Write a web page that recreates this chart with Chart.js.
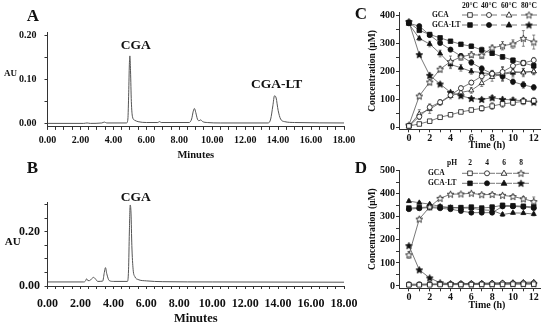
<!DOCTYPE html>
<html>
<head>
<meta charset="utf-8">
<script src="https://cdn.jsdelivr.net/npm/chart.js@4.4.0/dist/chart.umd.min.js"></script>
<style>
html, body { margin: 0; padding: 0; background: #fff; }
#wrap { position: relative; width: 550px; height: 328px; overflow: hidden; }
#wrap canvas { position: absolute; left: 0; top: 0; }
</style>
</head>
<body>
<div id="wrap">
  <canvas id="chartA" width="550" height="328"></canvas>
  <canvas id="chartB" width="550" height="328"></canvas>
  <canvas id="chartC" width="550" height="328"></canvas>
  <canvas id="chartD" width="550" height="328"></canvas>
</div>
<script>
// ---- chromatogram A (minutes / AU) ----
const aTime = [0, 2.2, 2.4, 2.6, 3.3, 3.45, 3.6, 4.8, 4.88, 4.93, 4.97, 5.0, 5.04, 5.09, 5.16, 5.3, 5.5, 6.0, 6.7, 6.8, 6.9,
               8.6, 8.75, 8.85, 8.92, 9.0, 9.1, 9.2, 9.3, 9.42, 9.7, 10.5, 13.4, 13.55, 13.68, 13.78, 13.88, 14.0, 14.15, 14.4, 15.0, 18];
const aAU   = [0, 0, 0.001, 0, 0.001, 0.003, 0.001, 0.001, 0.01, 0.07, 0.135, 0.154, 0.12, 0.05, 0.015, 0.007, 0.004, 0.002, 0.002, 0.004, 0.002,
               0.002, 0.01, 0.028, 0.034, 0.025, 0.01, 0.006, 0.008, 0.004, 0.002, 0.001, 0.001, 0.01, 0.04, 0.063, 0.058, 0.03, 0.01, 0.004, 0.002, 0.001];
const aYLabels = [0, 0.1, 0.2];

// ---- chromatogram B ----
const bTime = [0, 2.2, 2.3, 2.38, 2.45, 2.55, 2.7, 2.8, 2.9, 3.05, 3.35, 3.45, 3.52, 3.6, 3.75,
               4.0, 4.85, 4.92, 4.97, 5.02, 5.07, 5.12, 5.2, 5.3, 5.5, 6.0, 7.0, 10, 18];
const bAU   = [0.015, 0.015, 0.018, 0.027, 0.02, 0.02, 0.028, 0.032, 0.027, 0.017, 0.018, 0.05, 0.068, 0.045, 0.02,
               0.017, 0.017, 0.06, 0.2, 0.3, 0.27, 0.15, 0.06, 0.035, 0.024, 0.019, 0.016, 0.015, 0.014];
const bYLabels = [0, 0.2];

// ---- C: temperature (hours / uM) ----
const hours = [0, 1, 2, 3, 4, 5, 6, 7, 8, 9, 10, 11, 12];
const cGca20 = [5, 12, 22, 36, 45, 55, 62, 68, 76, 84, 88, 93, 95];
const cGca40 = [5, 38, 72, 90, 115, 140, 160, 183, 192, 198, 220, 230, 240];
const cGca60 = [5, 48, 65, 88, 112, 125, 132, 158, 180, 192, 200, 196, 200];
const cGca80 = [8, 112, 162, 208, 235, 252, 260, 258, 284, 292, 298, 318, 305];
const cLt20  = [375, 347, 332, 320, 308, 297, 290, 277, 265, 252, 240, 230, 220];
const cLt40  = [372, 362, 330, 302, 278, 255, 232, 210, 192, 182, 163, 152, 143];
const cLt60  = [370, 318, 298, 264, 225, 213, 200, 196, 190, 190, 195, 198, 200];
const cLt80  = [378, 260, 186, 155, 125, 113, 103, 100, 106, 100, 98, 95, 90];
const cErrGca20 = [2, 3, 3, 3, 4, 5, 6, 10, 12, 12, 10, 12, 12];
const cErrGca40 = [2, 10, 12, 8, 8, 8, 8, 10, 12, 15, 12, 10, 10];
const cErrGca60 = [2, 15, 15, 10, 10, 10, 10, 12, 15, 25, 15, 15, 12];
const cErrGca80 = [3, 8, 10, 10, 20, 12, 10, 12, 10, 15, 15, 28, 25];
const cErrLt20  = [5, 5, 5, 5, 5, 6, 8, 10, 8, 8, 8, 8, 8];
const cErrLt40  = [5, 5, 8, 8, 8, 8, 10, 10, 10, 12, 10, 12, 10];
const cErrLt60  = [5, 8, 10, 12, 15, 12, 10, 10, 12, 25, 15, 12, 10];
const cErrLt80  = [5, 5, 8, 6, 5, 5, 5, 6, 8, 8, 8, 8, 8];
const cTemps = ['20°C', '40°C', '60°C', '80°C'];

// ---- D: pH ----
const dGca2 = [5, 5, 5, 6, 6, 6, 6, 7, 7, 7, 8, 8, 8];
const dGca4 = [8, 8, 9, 9, 9, 10, 10, 10, 11, 12, 12, 13, 13];
const dGca6 = [3, 4, 6, 8, 9, 10, 11, 12, 13, 14, 15, 16, 17];
const dGca8 = [135, 290, 343, 380, 398, 399, 402, 396, 397, 393, 388, 378, 366];
const dLt2  = [338, 340, 343, 342, 340, 340, 342, 338, 342, 350, 348, 346, 343];
const dLt4  = [333, 337, 340, 337, 333, 325, 318, 318, 318, 345, 345, 343, 338];
const dLt6  = [368, 361, 355, 345, 340, 338, 338, 330, 328, 310, 317, 316, 312];
const dLt8  = [175, 70, 35, 14, 10, 9, 9, 9, 9, 10, 10, 10, 10];
const dErrGca8 = [15, 8, 8, 6, 5, 5, 5, 6, 6, 6, 8, 10, 20];
const dErrSmall = [4, 4, 4, 4, 4, 4, 4, 4, 4, 4, 4, 4, 4];
const dErrLt = [6, 5, 5, 5, 5, 5, 6, 6, 8, 8, 6, 6, 8];
const dPh = ['2', '4', '6', '8'];

const SERIF = '"Liberation Serif", "Times New Roman", serif';
const INK = '#111';
const LINE = '#555';

function bold(size) { return { family: SERIF, weight: 'bold', size: size }; }
function near(v, list) { return list.some(t => Math.abs(v - t) < 1e-9); }

// small star glyph used as point style
function starImage(filled) {
    const c = document.createElement('canvas');
    c.width = 9; c.height = 9;
    const g = c.getContext('2d');
    g.beginPath();
    for (let k = 0; k < 10; k++) {
        const r = k % 2 ? 1.6 : 3.6;
        const a = -Math.PI / 2 + k * Math.PI / 5;
        const px = 4.5 + r * Math.cos(a), py = 4.8 + r * Math.sin(a);
        if (k === 0) g.moveTo(px, py); else g.lineTo(px, py);
    }
    g.closePath();
    g.fillStyle = filled ? INK : '#fff';
    g.fill();
    g.lineWidth = 0.8;
    g.strokeStyle = INK;
    g.stroke();
    return c;
}
const starFilled = starImage(true);
const starOpen = starImage(false);

function drawMarker(ctx, style, filled, x, y) {
    if (style === 'star') {
        ctx.drawImage(filled ? starFilled : starOpen, x - 4.5, y - 4.5);
        return;
    }
    ctx.beginPath();
    if (style === 'rect') ctx.rect(x - 2.3, y - 2.3, 4.6, 4.6);
    else if (style === 'circle') ctx.arc(x, y, 2.5, 0, Math.PI * 2);
    else { ctx.moveTo(x, y - 3.2); ctx.lineTo(x + 2.9, y + 2); ctx.lineTo(x - 2.9, y + 2); ctx.closePath(); }
    ctx.fillStyle = filled ? INK : '#fff';
    ctx.fill();
    ctx.lineWidth = 0.8;
    ctx.strokeStyle = INK;
    ctx.stroke();
}

// free text + legend rows drawn on the canvas
const panelText = {
    id: 'panelText',
    afterDraw(chart, args, opts) {
        const ctx = chart.ctx;
        (opts.items || []).forEach(it => {
            ctx.save();
            ctx.font = 'bold ' + it.size + 'px ' + SERIF;
            ctx.fillStyle = INK;
            ctx.textAlign = it.align || 'center';
            ctx.textBaseline = 'middle';
            ctx.fillText(it.text, it.x, it.y);
            ctx.restore();
        });
        (opts.markers || []).forEach(m => {
            ctx.save();
            ctx.strokeStyle = LINE;
            ctx.lineWidth = 0.8;
            ctx.beginPath();
            ctx.moveTo(m.x - 8, m.y);
            ctx.lineTo(m.x + 8, m.y);
            ctx.stroke();
            drawMarker(ctx, m.style, m.filled, m.x, m.y);
            ctx.restore();
        });
    }
};

const errorBars = {
    id: 'errorBars',
    beforeDatasetsDraw(chart) {
        const ctx = chart.ctx;
        const yScale = chart.scales.y;
        chart.data.datasets.forEach((ds, i) => {
            if (!ds.errors) return;
            const meta = chart.getDatasetMeta(i);
            ctx.save();
            ctx.strokeStyle = LINE;
            ctx.lineWidth = 0.7;
            meta.data.forEach((pt, j) => {
                const v = ds.data[j], e = ds.errors[j];
                const top = yScale.getPixelForValue(v + e);
                const bot = yScale.getPixelForValue(v - e);
                ctx.beginPath();
                ctx.moveTo(pt.x, top); ctx.lineTo(pt.x, bot);
                ctx.moveTo(pt.x - 1.5, top); ctx.lineTo(pt.x + 1.5, top);
                ctx.moveTo(pt.x - 1.5, bot); ctx.lineTo(pt.x + 1.5, bot);
                ctx.stroke();
            });
            ctx.restore();
        });
    }
};

function trace(data) {
    return {
        data: data,
        borderColor: LINE,
        borderWidth: 1,
        pointRadius: 0,
        cubicInterpolationMode: 'monotone',
        fill: false
    };
}

function series(data, style, filled, errors) {
    const sizes = { rect: 3.2, circle: 2.5, triangle: 2.9 };
    return {
        data: data,
        errors: errors,
        borderColor: LINE,
        borderWidth: 0.8,
        pointStyle: style === 'star' ? (filled ? starFilled : starOpen) : style,
        pointRadius: sizes[style] || 3,
        pointBackgroundColor: filled ? INK : '#fff',
        pointBorderColor: INK,
        pointBorderWidth: 0.8,
        tension: 0,
        fill: false
    };
}

function axisCommon() {
    return {
        grid: { drawOnChartArea: false, drawTicks: true, tickLength: 3, color: '#333' },
        border: { display: true, color: '#333', width: 1 }
    };
}

function chromatogram(id, labels, values, box, yRange, yLabels, fontSize, yPad, xPad, texts) {
    return new Chart(document.getElementById(id), {
        type: 'line',
        data: { labels: labels, datasets: [trace(values)] },
        options: {
            responsive: false,
            animation: false,
            devicePixelRatio: 1,
            layout: { padding: box.padding },
            plugins: { legend: { display: false }, tooltip: { enabled: false }, panelText: { items: texts } },
            scales: {
                x: Object.assign(axisCommon(), {
                    type: 'linear', min: 0, max: 18,
                    afterFit: s => { s.height = box.xHeight; },
                    ticks: {
                        stepSize: 0.5, autoSkip: false, maxRotation: 0, padding: xPad, includeBounds: false,
                        font: bold(fontSize), color: INK,
                        callback: v => (Math.abs(v % 2) < 1e-9 ? v.toFixed(2) : '')
                    },
                    title: { display: true, text: 'Minutes', font: bold(fontSize + 0.5), color: INK, padding: 0 }
                }),
                y: Object.assign(axisCommon(), {
                    type: 'linear', min: yRange[0], max: yRange[1],
                    afterFit: s => { s.width = box.yWidth; },
                    afterBuildTicks: s => { s.ticks = s.ticks.filter(t => t.value >= -1e-9 && t.value <= yRange[1]); },
                    ticks: {
                        stepSize: 0.05, padding: yPad, includeBounds: false, autoSkip: false,
                        font: bold(fontSize), color: INK,
                        callback: v => (near(v, yLabels) ? v.toFixed(2) : '')
                    }
                })
            }
        },
        plugins: [panelText]
    });
}

function timeCourse(id, datasets, box, yRange, yStep, yLabels, texts, markers) {
    return new Chart(document.getElementById(id), {
        type: 'line',
        data: { labels: hours, datasets: datasets },
        options: {
            responsive: false,
            animation: false,
            devicePixelRatio: 1,
            layout: { padding: box.padding },
            plugins: { legend: { display: false }, tooltip: { enabled: false }, panelText: { items: texts, markers: markers } },
            scales: {
                x: Object.assign(axisCommon(), {
                    type: 'linear', min: -0.95, max: 12.6,
                    afterFit: s => { s.height = box.xHeight; },
                    afterBuildTicks: s => { s.ticks = s.ticks.filter(t => t.value >= 0 && t.value <= 12); },
                    ticks: {
                        stepSize: 1, autoSkip: false, maxRotation: 0, padding: 0, includeBounds: false,
                        font: bold(10), color: INK,
                        callback: v => (v % 2 === 0 ? String(v) : '')
                    }
                }),
                y: Object.assign(axisCommon(), {
                    type: 'linear', min: yRange[0], max: yRange[1],
                    afterFit: s => { s.width = box.yWidth; },
                    afterBuildTicks: s => { s.ticks = s.ticks.filter(t => t.value >= 0 && t.value <= yLabels[yLabels.length - 1]); },
                    ticks: {
                        stepSize: yStep, padding: 1, includeBounds: false, autoSkip: false,
                        font: bold(10), color: INK,
                        callback: v => (yLabels.includes(v) ? String(v) : '')
                    },
                    title: { display: true, text: 'Concentration (μM)', font: bold(9.5), color: INK, padding: 0 }
                })
            }
        },
        plugins: [errorBars, panelText]
    });
}

// ---- A ----
chromatogram('chartA', aTime, aAU,
    { padding: { left: 0, top: 32.7, right: 206, bottom: 166.7 }, xHeight: 34.4, yWidth: 47.5 },
    [-0.008, 0.207], aYLabels, 10, 8, 5,
    [
        { text: 'A', x: 33, y: 17, size: 17 },
        { text: 'AU', x: 10.5, y: 73.5, size: 9 },
        { text: 'CGA', x: 135.7, y: 46, size: 13.5 },
        { text: 'CGA-LT', x: 276.7, y: 85, size: 13.5 }
    ]);

// ---- B ----
chromatogram('chartB', bTime, bAU,
    { padding: { left: 0, top: 202, right: 206, bottom: 1.4 }, xHeight: 40.6, yWidth: 47.5 },
    [0, 0.311], bYLabels, 12, 4.5, 8,
    [
        { text: 'B', x: 32.5, y: 169, size: 17 },
        { text: 'AU', x: 12.8, y: 241.7, size: 11 },
        { text: 'CGA', x: 135.7, y: 197.3, size: 13.5 }
    ]);

// ---- C ----
const legendX = [470, 489, 509, 529];
const styles = ['rect', 'circle', 'triangle', 'star'];
timeCourse('chartC', [
        series(cGca20, 'rect', false, cErrGca20),
        series(cGca40, 'circle', false, cErrGca40),
        series(cGca60, 'triangle', false, cErrGca60),
        series(cGca80, 'star', false, cErrGca80),
        series(cLt20, 'rect', true, cErrLt20),
        series(cLt40, 'circle', true, cErrLt40),
        series(cLt60, 'triangle', true, cErrLt60),
        series(cLt80, 'star', true, cErrLt80)
    ],
    { padding: { left: 367, top: 12.7, right: 10, bottom: 176.7 }, xHeight: 22, yWidth: 32 },
    [-7, 410], 50, [0, 100, 200, 300, 400],
    [
        { text: 'C', x: 361, y: 15, size: 17 },
        { text: 'Time (h)', x: 487, y: 145, size: 10 },
        { text: 'GCA', x: 432, y: 15, size: 7.5, align: 'left' },
        { text: 'GCA-LT', x: 432, y: 25, size: 7.5, align: 'left' }
    ].concat(cTemps.map((t, i) => ({ text: t, x: legendX[i], y: 6, size: 7.5 }))),
    styles.map((s, i) => ({ x: legendX[i], y: 15, style: s, filled: false }))
        .concat(styles.map((s, i) => ({ x: legendX[i], y: 25, style: s, filled: true }))));

// ---- D ----
const legendXD = [470, 487, 504, 521];
timeCourse('chartD', [
        series(dGca2, 'rect', false, dErrSmall),
        series(dGca4, 'circle', false, dErrSmall),
        series(dGca6, 'triangle', false, dErrSmall),
        series(dGca8, 'star', false, dErrGca8),
        series(dLt2, 'rect', true, dErrLt),
        series(dLt4, 'circle', true, dErrLt),
        series(dLt6, 'triangle', true, dErrLt),
        series(dLt8, 'star', true, dErrSmall)
    ],
    { padding: { left: 367, top: 170, right: 10, bottom: 17 }, xHeight: 22.7, yWidth: 32 },
    [-10, 503], 50, [0, 100, 200, 300, 400, 500],
    [
        { text: 'D', x: 361, y: 169, size: 17 },
        { text: 'Time (h)', x: 487, y: 305, size: 10 },
        { text: 'pH', x: 452, y: 163, size: 7.5 },
        { text: 'GCA', x: 428, y: 173.3, size: 7.5, align: 'left' },
        { text: 'GCA-LT', x: 428, y: 183.3, size: 7.5, align: 'left' }
    ].concat(dPh.map((t, i) => ({ text: t, x: legendXD[i], y: 163, size: 7.5 }))),
    styles.map((s, i) => ({ x: legendXD[i], y: 173.3, style: s, filled: false }))
        .concat(styles.map((s, i) => ({ x: legendXD[i], y: 183.3, style: s, filled: true }))));
</script>
</body>
</html>
